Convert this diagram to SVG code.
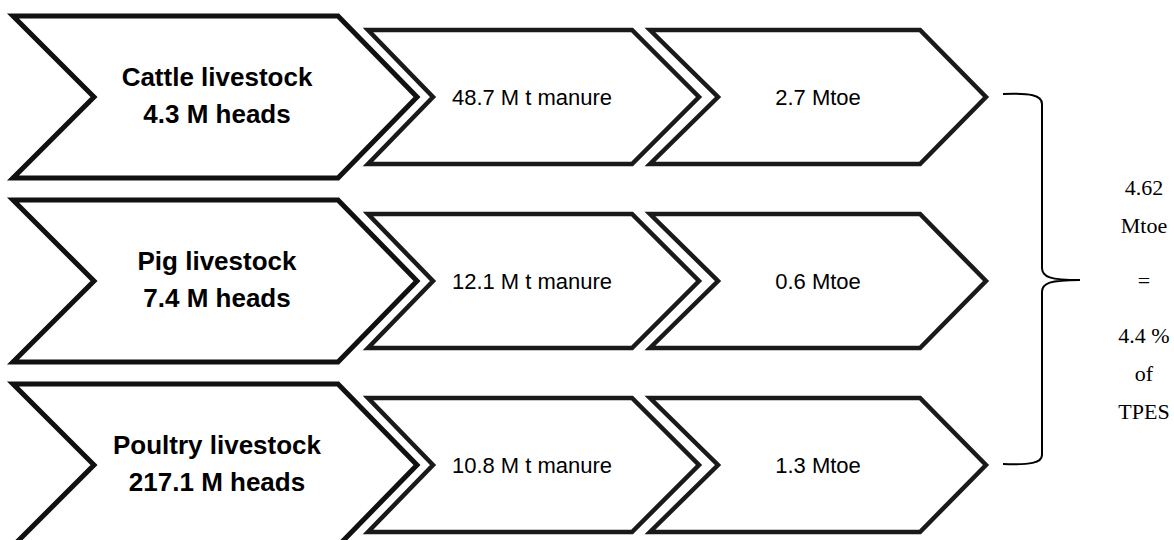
<svg xmlns="http://www.w3.org/2000/svg" width="1174" height="540" viewBox="0 0 1174 540">
  <style>
    .big { fill: #ffffff; stroke: #111111; stroke-width: 5; stroke-linejoin: miter; stroke-miterlimit: 10; }
    .mid { fill: #ffffff; stroke: #1a1a1a; stroke-width: 4.5; stroke-linejoin: miter; stroke-miterlimit: 10; }
    .head { font-family: "Liberation Sans", Arial, sans-serif; font-weight: bold; font-size: 26px; fill: #000; text-anchor: middle; }
    .val { font-family: "Liberation Sans", Arial, sans-serif; font-size: 22px; fill: #000; text-anchor: middle; }
    .sum { font-family: "Liberation Serif", "Times New Roman", serif; font-size: 22px; fill: #000; text-anchor: middle; }
    .brace { fill: none; stroke: #000; stroke-width: 2; }
  </style>
  <defs>
    <!-- chevron shapes centred on y = 0 -->
    <polygon id="bigChevron" points="13,-81 338,-81 417,0 338,81 13,81 94,0"/>
    <polygon id="manureChevron" points="368,-67 632,-67 699,0 632,67 368,67 433,0"/>
    <polygon id="energyChevron" points="650,-67 920,-67 986,0 920,67 650,67 718,0"/>
  </defs>

  <rect width="1174" height="540" fill="#ffffff"/>

  <!-- row 1: cattle -->
  <g id="cattle-livestock" transform="translate(0,97)">
    <use href="#bigChevron" class="big"/>
    <text class="head" x="217" y="-11">Cattle livestock</text>
    <text class="head" x="217" y="26">4.3 M heads</text>
  </g>
  <g id="cattle-manure" transform="translate(0,97)">
    <use href="#manureChevron" class="mid"/>
    <text class="val" x="532" y="8">48.7 M t manure</text>
  </g>
  <g id="cattle-energy" transform="translate(0,97)">
    <use href="#energyChevron" class="mid"/>
    <text class="val" x="818" y="8">2.7 Mtoe</text>
  </g>

  <!-- row 2: pigs -->
  <g id="pig-livestock" transform="translate(0,281)">
    <use href="#bigChevron" class="big"/>
    <text class="head" x="217" y="-11">Pig livestock</text>
    <text class="head" x="217" y="26">7.4 M heads</text>
  </g>
  <g id="pig-manure" transform="translate(0,281)">
    <use href="#manureChevron" class="mid"/>
    <text class="val" x="532" y="8">12.1 M t manure</text>
  </g>
  <g id="pig-energy" transform="translate(0,281)">
    <use href="#energyChevron" class="mid"/>
    <text class="val" x="818" y="8">0.6 Mtoe</text>
  </g>

  <!-- row 3: poultry -->
  <g id="poultry-livestock" transform="translate(0,465)">
    <use href="#bigChevron" class="big"/>
    <text class="head" x="217" y="-11">Poultry livestock</text>
    <text class="head" x="217" y="26">217.1 M heads</text>
  </g>
  <g id="poultry-manure" transform="translate(0,465)">
    <use href="#manureChevron" class="mid"/>
    <text class="val" x="532" y="8">10.8 M t manure</text>
  </g>
  <g id="poultry-energy" transform="translate(0,465)">
    <use href="#energyChevron" class="mid"/>
    <text class="val" x="818" y="8">1.3 Mtoe</text>
  </g>

  <!-- curly brace gathering the three energy outputs -->
  <g id="connectors">
    <path class="brace" d="M1003,94 C1030,93 1042,95 1042,104 L1042,268 C1042,277 1050,280 1080,280 C1050,280 1042,283 1042,292 L1042,455 C1042,463 1030,465 1003,464"/>
  </g>

  <!-- total -->
  <g id="total">
    <text class="sum" x="1144" y="195">4.62</text>
    <text class="sum" x="1144" y="233">Mtoe</text>
    <text class="sum" x="1144" y="288">=</text>
    <text class="sum" x="1144" y="343">4.4 %</text>
    <text class="sum" x="1144" y="381">of</text>
    <text class="sum" x="1144" y="419">TPES</text>
  </g>
</svg>
